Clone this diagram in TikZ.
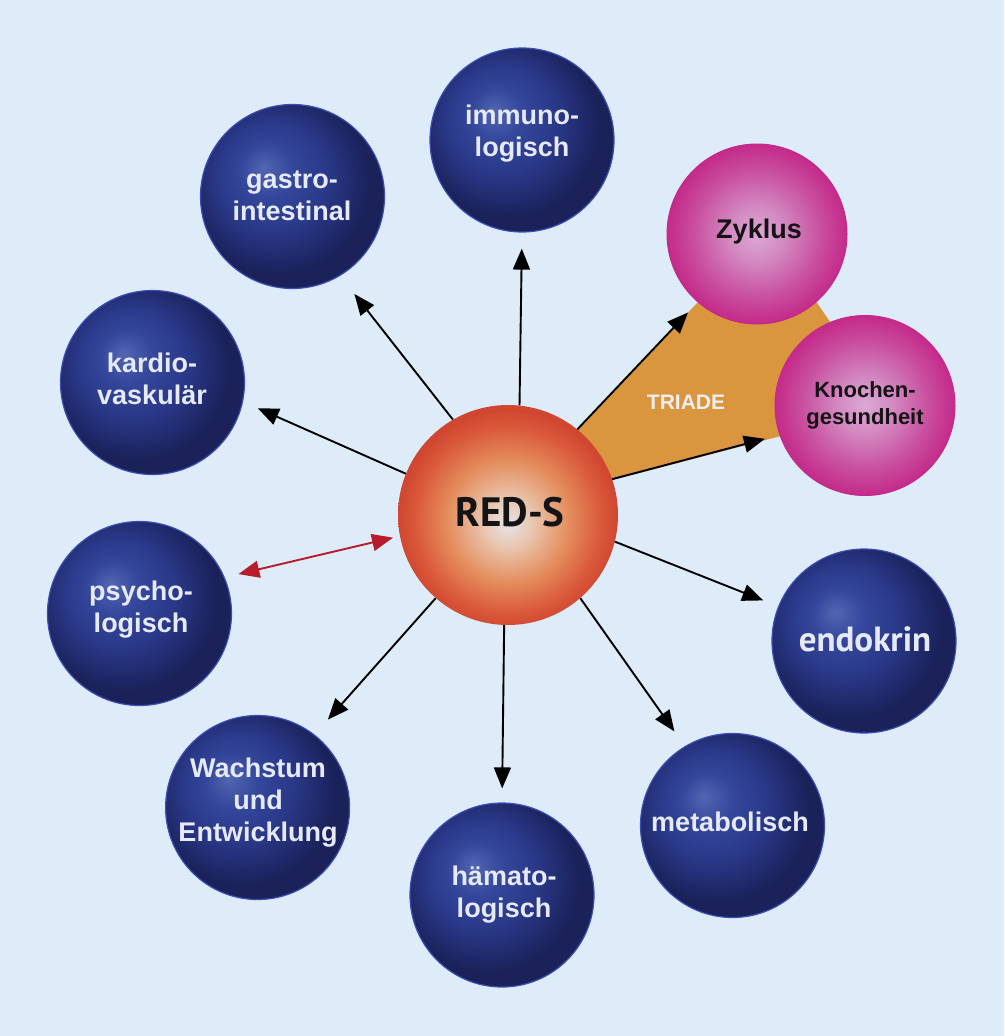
\documentclass[tikz,border=0pt]{standalone}
\usepackage{fontspec}
\setmainfont{Liberation Sans}
\newfontfamily\ptsans{PT Sans}
\usetikzlibrary{arrows.meta}
\definecolor{bgblue}{HTML}{DEEBF8}
\definecolor{bb1}{HTML}{5266B2}
\definecolor{bb2}{HTML}{34479C}
\definecolor{bb3}{HTML}{2A3888}
\definecolor{bb4}{HTML}{1F2868}
\definecolor{bb5}{HTML}{1B225A}
\definecolor{bordblue}{HTML}{3B4DB5}
\definecolor{rd1}{HTML}{E6E4EA}
\definecolor{rd2}{HTML}{E9C3AB}
\definecolor{rd3}{HTML}{E48C5C}
\definecolor{rd4}{HTML}{DA5A3B}
\definecolor{rd5}{HTML}{D04630}
\definecolor{pk1}{HTML}{DDA8D4}
\definecolor{pk2}{HTML}{D38AC2}
\definecolor{pk3}{HTML}{C9509F}
\definecolor{pk4}{HTML}{C42A8A}
\definecolor{orangetri}{HTML}{DA963F}
\definecolor{txtblue}{HTML}{E6EAF7}
\definecolor{darktxt}{HTML}{141414}
\definecolor{redarrow}{HTML}{B81C2C}
\definecolor{triadetxt}{HTML}{F0EEF2}
\pgfdeclareradialshading{blueball}{\pgfqpoint{-8bp}{8bp}}{color(0bp)=(bb1); color(7bp)=(bb2); color(15bp)=(bb3); color(22bp)=(bb4); color(25bp)=(bb5); color(50bp)=(bb5)}
\pgfdeclareradialshading{redball}{\pgfqpoint{0bp}{-2bp}}{color(0bp)=(rd1); color(6bp)=(rd2); color(14bp)=(rd3); color(21bp)=(rd4); color(25bp)=(rd5); color(50bp)=(rd5)}
\pgfdeclareradialshading{pinkball}{\pgfqpoint{0bp}{0bp}}{color(0bp)=(pk1); color(7.5bp)=(pk2); color(17.5bp)=(pk3); color(25bp)=(pk4); color(50bp)=(pk4)}
\tikzset{
  bluecirc/.style={circle, minimum size=184pt, inner sep=0pt, shade, shading=blueball, draw=bordblue, line width=1.2pt},
  pinkcirc/.style={circle, minimum size=180pt, inner sep=0pt, shade, shading=pinkball, draw=pk4, line width=1pt},
  redcirc/.style={circle, minimum size=220pt, inner sep=0pt, shade, shading=redball},
  btxt/.style={text=txtblue, align=center, inner sep=0pt, font=\bfseries\fontsize{27}{32}\selectfont},
  ptxt/.style={text=darktxt, align=center, inner sep=0pt, font=\bfseries\fontsize{22}{27}\selectfont},
  arr/.style={-{Triangle[length=21pt,width=17pt]}, line width=1.9pt, black},
  redarr/.style={{Triangle[length=21pt,width=17pt]}-{Triangle[length=21pt,width=17pt]}, line width=1.9pt, redarrow},
}
\begin{document}
\begin{tikzpicture}[x=1pt,y=-1pt]
\useasboundingbox (0,0) rectangle (1004,1036);
\fill[bgblue] (0,0) rectangle (1004,1036);
% triad area
\fill[orangetri] (560,447) -- (720,279) -- (800,278) -- (850,351) -- (800,431) -- (590,486) -- cycle;
% circles
\node[redcirc] (reds) at (508,515) {};
\node[bluecirc] (imm) at (522,140) {};
\node[bluecirc] (gas) at (292.5,196.5) {};
\node[bluecirc] (kar) at (152.5,382.5) {};
\node[bluecirc] (psy) at (139.5,613.5) {};
\node[bluecirc] (wac) at (257.6,807.5) {};
\node[bluecirc] (hae) at (502,895) {};
\node[bluecirc] (met) at (732.5,825.5) {};
\node[bluecirc] (end) at (864,641) {};
\node[pinkcirc] (zyk) at (757,234) {};
\node[pinkcirc] (kno) at (865,405.5) {};
% arrows
\draw[arr, shorten >=16pt] (reds.84) -- (imm.270);
\draw[arr, shorten >=23pt] (reds.120) -- (gas.-59);
\draw[arr, shorten >=16pt] (reds.158) -- (kar.-12);
\draw[redarr, shorten <=14pt, shorten >=7pt] (psy.23) -- (reds.191);
\draw[arr, shorten >=20pt] (reds.229) -- (wac.52);
\draw[arr, shorten >=14pt] (reds.268) -- (hae.90);
\draw[arr, shorten >=18pt] (reds.-49) -- (met.121);
\draw[arr, shorten >=16pt] (reds.-14) -- (end.158);
\draw[arr, shorten >=14pt] (reds.51) -- (zyk.229);
\draw[arr, shorten >=15pt] (reds.19) -- (kno.199);
% texts
\node[text=darktxt, inner sep=0pt, font=\ptsans\bfseries\fontsize{41}{48}\selectfont] (redsT) at (510,512) {RED-S};
\node[btxt] (immT) at (522,134) {immuno-\\logisch};
\node[btxt] (gasT) at (292,196) {gastro-\\intestinal};
\node[btxt] (karT) at (152,379) {kardio-\\vaskulär};
\node[btxt] (psyT) at (141,610) {psycho-\\logisch};
\node[btxt] (wacT) at (258,803) {Wachstum\\und\\Entwicklung};
\node[btxt] (haeT) at (504,895) {hämato-\\logisch};
\node[btxt] (metT) at (730,822) {metabolisch};
\node[text=txtblue, inner sep=0pt, font=\ptsans\bfseries\fontsize{35}{40}\selectfont] (endT) at (865,639) {endokrin};
\node[text=darktxt, inner sep=0pt, font=\bfseries\fontsize{27}{32}\selectfont] (zykT) at (759,232) {Zyklus};
\node[ptxt] (knoT) at (865,405) {Knochen-\\gesundheit};
\node[text=triadetxt, inner sep=0pt, font=\bfseries\fontsize{21}{25}\selectfont] (triT) at (686,402) {TRIADE};
\end{tikzpicture}
\end{document}
